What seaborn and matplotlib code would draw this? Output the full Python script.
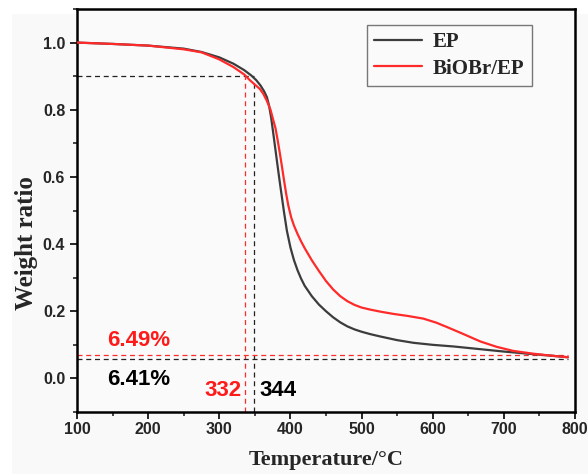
import numpy as np
import pandas as pd
import matplotlib
matplotlib.use("Agg")
import matplotlib.pyplot as plt
from matplotlib.patches import Rectangle
from matplotlib.ticker import MultipleLocator
import seaborn as sns

# Data
temp_ep = [100, 150, 200, 250, 275, 300, 320, 335, 345, 352, 358, 363, 367, 370, 373, 376,
           379, 382, 385, 388, 391, 395, 400, 405, 410, 415, 420, 430, 440, 450, 460, 470,
           480, 490, 500, 512, 526, 550, 573, 600, 630, 667, 700, 737, 765, 790]
w_ep = [1.000, 0.996, 0.991, 0.982, 0.972, 0.956, 0.937, 0.918, 0.902, 0.888, 0.872, 0.855,
        0.837, 0.812, 0.775, 0.728, 0.680, 0.632, 0.585, 0.540, 0.495, 0.440, 0.390, 0.352,
        0.322, 0.297, 0.276, 0.245, 0.220, 0.200, 0.182, 0.167, 0.155, 0.146, 0.139, 0.132,
        0.125, 0.114, 0.106, 0.100, 0.095, 0.087, 0.080, 0.073, 0.068, 0.063]

temp_bi = [100, 150, 200, 250, 275, 300, 320, 335, 343, 350, 357, 362, 367, 372, 375, 379,
           382, 385, 388, 391, 394, 397, 401, 405, 410, 415, 420, 430, 440, 450, 460, 470,
           480, 490, 500, 512, 526, 545, 565, 587, 605, 620, 640, 667, 690, 713, 740, 765, 790]
w_bi = [1.000, 0.996, 0.991, 0.980, 0.971, 0.950, 0.927, 0.905, 0.888, 0.875, 0.862, 0.847,
        0.826, 0.800, 0.776, 0.745, 0.710, 0.672, 0.632, 0.590, 0.550, 0.515, 0.480, 0.455,
        0.430, 0.408, 0.388, 0.352, 0.320, 0.290, 0.265, 0.245, 0.230, 0.219, 0.211, 0.205,
        0.199, 0.192, 0.186, 0.178, 0.166, 0.153, 0.135, 0.110, 0.094, 0.082, 0.074, 0.068,
        0.063]

series_names = ["EP", "BiOBr/EP"]
t5_labels = ["332", "344"]
residue_labels = ["6.49%", "6.41%"]
t10_lines = [336, 349]          # drawn vertical guides (red, black)
residue_lines = [0.069, 0.059]  # drawn horizontal guides (red, black)

df = pd.concat([
    pd.DataFrame({"Temperature": temp_ep, "Weight": w_ep, "Sample": series_names[0]}),
    pd.DataFrame({"Temperature": temp_bi, "Weight": w_bi, "Sample": series_names[1]}),
])

sns.set_style("ticks")
plt.rcParams["font.family"] = ["Liberation Sans", "DejaVu Sans"]

fig = plt.figure(figsize=(5.88, 4.74), dpi=100)
fig.patches.append(Rectangle((12 / 588, 0), 1, 1 - 14 / 474, transform=fig.transFigure,
                             facecolor="#f9f9f9", edgecolor="none", zorder=-10))
ax = fig.add_axes([77 / 588, 1 - 412 / 474, (575 - 77) / 588, (412 - 9) / 474])
ax.set_facecolor("#fafafa")

palette = {"EP": "#3c3c3c", "BiOBr/EP": "#ff2a2a"}
sns.lineplot(data=df, x="Temperature", y="Weight", hue="Sample", palette=palette,
             linewidth=1.6, ax=ax, sort=False, zorder=3)

red = "#ff2a2a"
blk = "#222222"
dash = (0, (4, 3))
# 10% loss guide
ax.plot([100, t10_lines[1]], [0.9, 0.9], color=blk, lw=0.9, ls=dash)
ax.plot([t10_lines[0], t10_lines[0]], [-0.1, 0.9], color=red, lw=0.9, ls=dash)
ax.plot([t10_lines[1], t10_lines[1]], [-0.1, 0.885], color=blk, lw=0.9, ls=dash)
# residue guides
ax.plot([100, 790], [residue_lines[0], residue_lines[0]], color=red, lw=0.9, ls=dash)
ax.plot([100, 790], [residue_lines[1], residue_lines[1]], color=blk, lw=0.9, ls=dash)

ax.text(142, 0.114, residue_labels[0], color="#ff1a1a", fontsize=16, fontweight="bold",
        ha="left", va="center")
ax.text(142, -0.002, residue_labels[1], color="black", fontsize=16, fontweight="bold",
        ha="left", va="center")
ax.text(332, -0.036, t5_labels[0], color="#ff1a1a", fontsize=16, fontweight="bold",
        ha="right", va="center")
ax.text(357, -0.036, t5_labels[1], color="black", fontsize=16, fontweight="bold",
        ha="left", va="center")

ax.set_xlim(100, 800)
ax.set_ylim(-0.1, 1.1)
ax.xaxis.set_major_locator(MultipleLocator(100))
ax.xaxis.set_minor_locator(MultipleLocator(50))
ax.yaxis.set_minor_locator(MultipleLocator(0.1))
ax.set_yticks([0.0, 0.2, 0.4, 0.6, 0.8, 1.0])
ax.set_yticklabels(["0.0", "0.2", "0.4", "0.6", "0.8", "1.0"])
ax.tick_params(axis="both", which="major", direction="out", length=5, width=1.4,
               labelsize=11.5)
ax.tick_params(axis="x", which="major", pad=2)
ax.tick_params(axis="both", which="minor", direction="out", length=3, width=1.2)
for lab in ax.get_xticklabels() + ax.get_yticklabels():
    lab.set_fontweight("bold")
for s in ax.spines.values():
    s.set_visible(True)
    s.set_linewidth(1.8)
    s.set_color("black")

ax.set_xlabel("Temperature/\u00b0C", fontsize=16, fontweight="bold",
              family=["Liberation Serif", "DejaVu Serif"])
ax.xaxis.set_label_coords(0.5, -0.094)
ax.set_ylabel("Weight ratio", fontsize=18, fontweight="bold",
              family=["Liberation Serif", "DejaVu Serif"])
ax.yaxis.set_label_coords(-0.078, 0.42)

leg = ax.legend(title=None, loc="upper left", bbox_to_anchor=(290 / 498, 1 - 16 / 403),
                prop={"family": ["Liberation Serif"], "weight": "bold", "size": 15},
                frameon=True, fancybox=False, handlelength=2.3, handletextpad=0.5,
                borderpad=0.35, labelspacing=0.3, borderaxespad=0)
leg.get_frame().set_edgecolor("#777777")
leg.get_frame().set_linewidth(1.0)
leg.get_frame().set_facecolor("#fafafa")
leg.get_frame().set_alpha(1)

fig.savefig("out.png", dpi=100)
